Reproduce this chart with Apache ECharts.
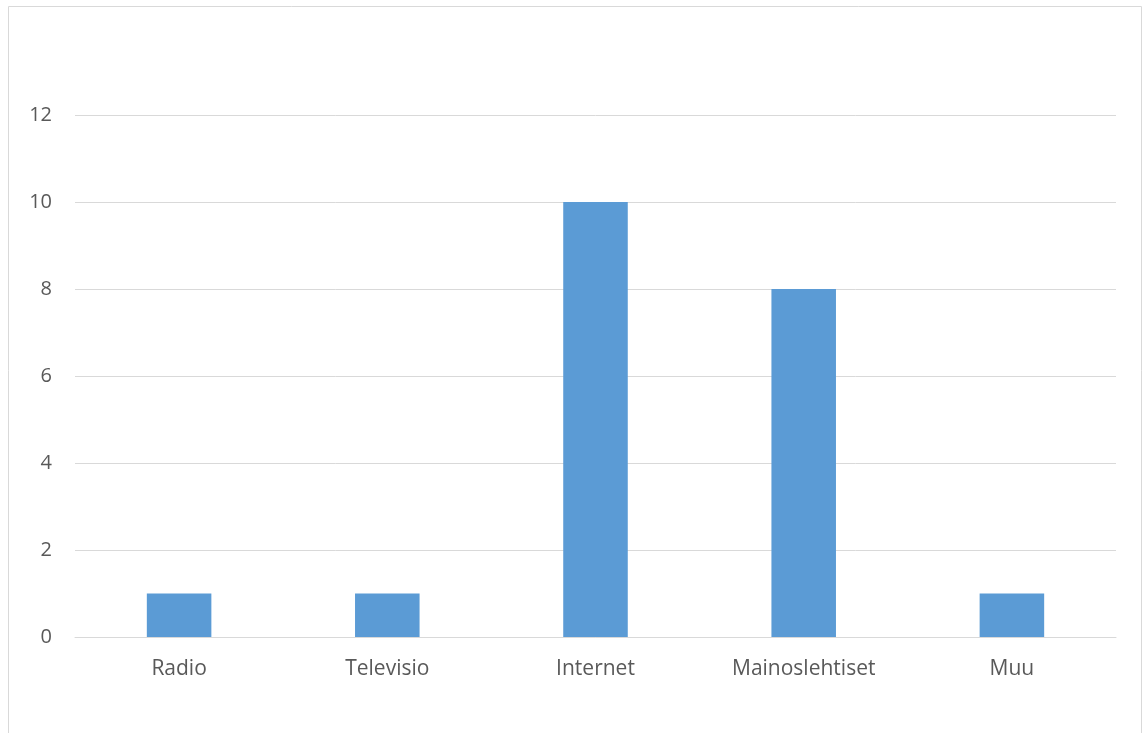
<!DOCTYPE html>
<html>
<head>
<meta charset="utf-8">
<script src="https://cdn.jsdelivr.net/npm/echarts@6/dist/echarts.min.js"></script>
<style>
  html, body { margin: 0; padding: 0; background: #fff; }
  #main { width: 1143px; height: 733px; }
</style>
</head>
<body>
<div id="main"></div>
<script>
// categories and counts
const categories = ['Radio', 'Televisio', 'Internet', 'Mainoslehtiset', 'Muu'];
const counts = [1, 1, 10, 8, 1];
const yTicks = { min: 0, max: 12, interval: 2 };

const fontFamily = '"Open Sans", "Liberation Sans", sans-serif';
const labelColor = '#595959';

var myChart = echarts.init(document.getElementById('main'));
myChart.setOption({
    animation: false,
    graphic: [
        {
            type: 'rect',
            shape: { x: 8.5, y: 6.5, width: 1133, height: 740 },
            style: { fill: 'none', stroke: '#d9d9d9', lineWidth: 1 },
            silent: true
        }
    ],
    grid: {
        left: 75,
        right: 27,
        top: 115,
        bottom: 96
    },
    xAxis: {
        type: 'category',
        data: categories,
        axisTick: { show: false },
        axisLine: { show: true, lineStyle: { color: '#d9d9d9', width: 1 } },
        axisLabel: {
            color: labelColor,
            fontFamily: fontFamily,
            fontSize: 21,
            margin: 22
        }
    },
    yAxis: {
        type: 'value',
        min: yTicks.min,
        max: yTicks.max,
        interval: yTicks.interval,
        axisLine: { show: false },
        axisTick: { show: false },
        splitLine: { lineStyle: { color: '#d9d9d9', width: 1 } },
        axisLabel: {
            color: labelColor,
            fontFamily: fontFamily,
            fontSize: 20,
            margin: 23
        }
    },
    series: [
        {
            type: 'bar',
            data: counts,
            barWidth: '31%',
            itemStyle: { color: '#5b9bd5' }
        }
    ]
});
</script>
</body>
</html>
